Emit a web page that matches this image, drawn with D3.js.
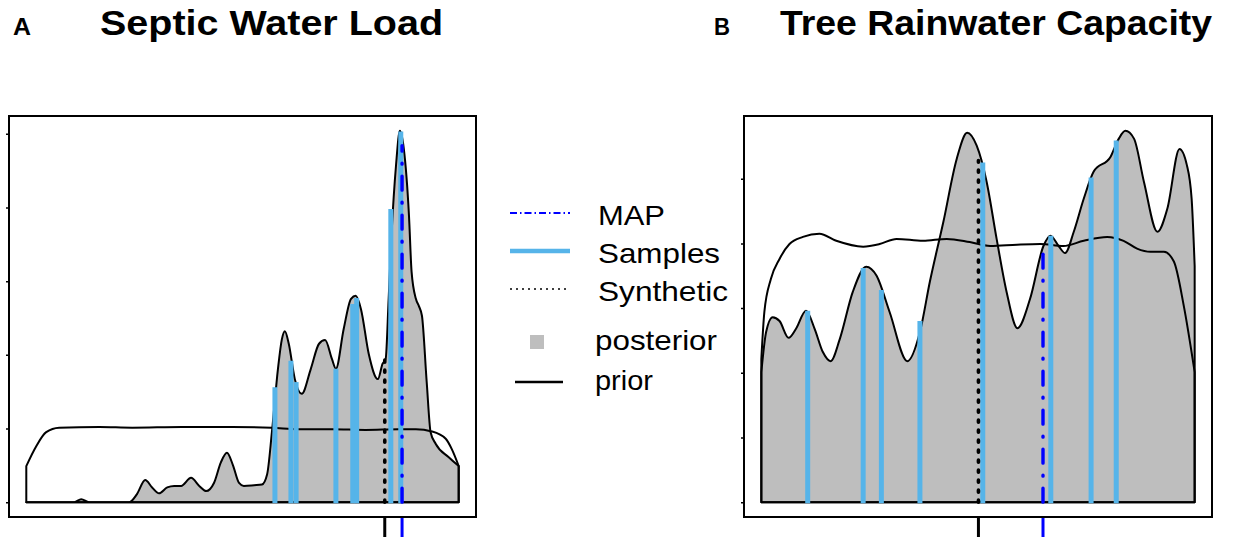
<!DOCTYPE html>
<html>
<head>
<meta charset="utf-8">
<script src="https://cdn.jsdelivr.net/npm/d3@7"></script>
<style>
  body { margin: 0; background: #fff; }
  svg { display: block; font-family: "Liberation Sans", Arial, sans-serif; }
</style>
</head>
<body>
<svg id="chart" width="1234" height="546"></svg>
<script>
// ---- Panel A: Septic Water Load (x in % of range, y in density units) ----
const septicPostX = [0, 5.3, 11.1, 12.7, 14.5, 23.8, 25.6, 27.5, 29.1, 30.7, 32.6, 34.2, 35.8, 38.1, 40.0, 41.6,
  43.4, 45.0, 46.4, 47.8, 49.2, 50.3, 52.7, 54.5, 55.7, 56.8, 58.2, 59.1, 59.8, 60.7, 62.1, 63.7, 65.8, 67.7,
  69.1, 70.7, 71.6, 73.4, 75.1, 76.2, 77.4, 79.2, 81.3, 82.4, 83.1, 83.8, 84.5, 85.5, 86.4, 87.3, 88.5, 89.1,
  90.1, 90.8, 91.5, 92.6, 93.5, 94.7, 97.7, 99.8, 100];
const septicPostY = [0, 0, 0, 0.04, 0, 0, 0.11, 0.30, 0.20, 0.12, 0.20, 0.22, 0.22, 0.33, 0.22, 0.15,
  0.26, 0.54, 0.67, 0.50, 0.26, 0.22, 0.23, 0.24, 0.38, 0.95, 1.81, 2.21, 2.32, 2.15, 1.67, 1.47, 1.81, 2.15,
  2.20, 1.94, 1.81, 2.35, 2.76, 2.80, 2.62, 2.01, 1.67, 1.88, 1.94, 2.76, 3.67, 4.57, 5.04, 4.80, 3.89, 3.13,
  2.76, 2.66, 2.53, 1.63, 0.95, 0.79, 0.61, 0.50, 0.49];
const septicPriorX = [0, 2.3, 4.6, 7.6, 16.9, 24.5, 36.0, 47.6, 56.8, 63.0, 70.7, 78.5, 86.1, 90.1, 93.8, 97.0, 98.4, 100];
const septicPriorY = [0.49, 0.76, 0.95, 1.01, 1.02, 1.01, 1.02, 1.02, 1.01, 0.99, 0.99, 0.98, 0.99, 0.99, 0.96, 0.86, 0.72, 0.49];
const septicSamplesX = [57.5, 61.2, 62.4, 71.6, 75.5, 76.4, 84.3, 86.6];
const septicSamplesY = [1.56, 1.92, 1.63, 1.81, 2.69, 2.77, 3.98, 5.03];
const septicSynthetic = [82.9, 1.94];
const septicMAP = [86.9, 4.84];

// ---- Panel B: Tree Rainwater Capacity ----
const treePostX = [0, 1.1, 2.6, 4.2, 6.3, 8.0, 10.3, 12.3, 14.2, 16.0, 18.1, 21.1, 24.2, 26.6, 29.6, 33.7,
  36.6, 38.9, 42.0, 45.1, 47.5, 49.7, 52.0, 54.3, 56.6, 59.1, 62.0, 65.1, 66.7, 68.6, 70.1, 72.1, 74.4, 76.7,
  80.6, 82.5, 84.0, 86.0, 88.3, 91.4, 93.7, 96.5, 98.2, 99.3, 100];
const treePostY = [2.01, 2.63, 2.86, 2.80, 2.54, 2.68, 2.96, 2.68, 2.32, 2.18, 2.52, 3.25, 3.64, 3.50, 2.94, 2.18,
  2.63, 3.41, 4.33, 5.31, 5.71, 5.51, 4.95, 4.07, 3.25, 2.69, 3.14, 3.96, 4.12, 3.96, 3.85, 4.18, 4.69, 5.11,
  5.34, 5.62, 5.74, 5.62, 4.95, 4.18, 4.54, 5.46, 5.21, 4.69, 3.65];
const treePriorX = [0, 0.7, 2.2, 4.2, 6.5, 9.6, 13.4, 17.3, 23.5, 27.3, 31.2, 37.3, 42.8, 48.1, 52.8, 59.0,
  64.4, 69.7, 74.4, 79.8, 83.6, 86.7, 89.8, 92.9, 95.2, 97.5, 100];
const treePriorY = [2.21, 2.94, 3.45, 3.76, 3.99, 4.10, 4.15, 4.04, 3.95, 3.99, 4.07, 4.04, 4.07, 4.02, 3.96, 3.98,
  3.99, 3.96, 4.04, 4.10, 4.04, 3.92, 3.87, 3.87, 3.72, 3.03, 2.01];
const treeSamplesX = [10.7, 23.5, 27.7, 36.6, 51.1, 66.8, 76.1, 81.9];
const treeSamplesY = [2.96, 3.62, 3.28, 2.80, 5.25, 4.12, 5.02, 5.59];
const treeSynthetic = [50.1, 5.28];
const treeMAP = [65.0, 3.97];

const yTicks = [0, 1, 2, 3, 4, 5];

const legendLabels = ["MAP", "Samples", "Synthetic", "posterior", "prior"];

const colSample = "#56B4E9";
const colMAP = "#0000ff";
const colPost = "#bebebe";

const svg = d3.select("#chart");

function drawPanel(cfg) {
  const xDom = [0, 100];
  const yMax = d3.max(cfg.postY);
  // R style 4% padding on both axes
  const xPad = (xDom[1] - xDom[0]) * 0.04;
  const x = d3.scaleLinear().domain([xDom[0] - xPad, xDom[1] + xPad]).range([cfg.left, cfg.right]);
  const y = d3.scaleLinear().domain([-0.04 * yMax, 1.04 * yMax]).range([cfg.bottom, cfg.top]);

  const g = svg.append("g");

  const area = d3.area()
    .x(d => x(d[0]))
    .y0(y(0))
    .y1(d => y(d[1]))
    .curve(d3.curveMonotoneX);

  const post = d3.zip(cfg.postX, cfg.postY);
  const prior = d3.zip(cfg.priorX, cfg.priorY);

  g.append("path").datum(post)
    .attr("d", area)
    .attr("fill", colPost)
    .attr("stroke", "#000")
    .attr("stroke-width", 2)
    .attr("stroke-linejoin", "round");

  g.append("path").datum(prior)
    .attr("d", area)
    .attr("fill", "none")
    .attr("stroke", "#000")
    .attr("stroke-width", 2)
    .attr("stroke-linejoin", "round");

  // samples
  g.selectAll("line.sample")
    .data(d3.zip(cfg.samplesX, cfg.samplesY))
    .enter().append("line")
      .attr("class", "sample")
      .attr("x1", d => x(d[0])).attr("x2", d => x(d[0]))
      .attr("y1", y(0) + 1).attr("y2", d => y(d[1]))
      .attr("stroke", colSample)
      .attr("stroke-width", 5);

  // synthetic truth
  g.append("line")
    .attr("x1", x(cfg.synthetic[0])).attr("x2", x(cfg.synthetic[0]))
    .attr("y1", y(0)).attr("y2", y(cfg.synthetic[1]))
    .attr("stroke", "#000")
    .attr("stroke-width", 3.6)
    .attr("stroke-linecap", "round")
    .attr("stroke-dasharray", "2,8");

  // MAP
  g.append("line")
    .attr("x1", x(cfg.map[0])).attr("x2", x(cfg.map[0]))
    .attr("y1", y(0)).attr("y2", y(cfg.map[1]))
    .attr("stroke", colMAP)
    .attr("stroke-width", 3.4)
    .attr("stroke-linecap", "round")
    .attr("stroke-dasharray", "14,12,1,12");

  // box
  g.append("rect")
    .attr("x", cfg.left).attr("y", cfg.top)
    .attr("width", cfg.right - cfg.left)
    .attr("height", cfg.bottom - cfg.top)
    .attr("fill", "none")
    .attr("stroke", "#000")
    .attr("stroke-width", 2);

  // tiny y ticks, no labels
  const yAxis = g.append("g")
    .attr("transform", `translate(${cfg.left - 1},0)`)
    .call(d3.axisLeft(y).tickValues(yTicks).tickSize(2).tickFormat(""));
  yAxis.select(".domain").remove();
  yAxis.selectAll(".tick line").attr("stroke", "#000").attr("stroke-width", 1.5);

  // rug ticks under the box for synthetic and MAP
  g.append("line")
    .attr("x1", x(cfg.synthetic[0])).attr("x2", x(cfg.synthetic[0]))
    .attr("y1", cfg.bottom + 1).attr("y2", cfg.bottom + 20)
    .attr("stroke", "#000").attr("stroke-width", 3);
  g.append("line")
    .attr("x1", x(cfg.map[0])).attr("x2", x(cfg.map[0]))
    .attr("y1", cfg.bottom + 1).attr("y2", cfg.bottom + 20)
    .attr("stroke", colMAP).attr("stroke-width", 3);

  // titles
  svg.append("text")
    .attr("x", cfg.letterX).attr("y", 35)
    .attr("font-size", 24).attr("font-weight", "bold")
    .attr("textLength", cfg.letterW).attr("lengthAdjust", "spacingAndGlyphs")
    .text(cfg.letter);
  svg.append("text")
    .attr("x", cfg.titleX).attr("y", 35)
    .attr("font-size", 35).attr("font-weight", "bold")
    .attr("textLength", cfg.titleW).attr("lengthAdjust", "spacingAndGlyphs")
    .text(cfg.title);
}

drawPanel({
  left: 9, right: 476, top: 116, bottom: 517,
  postX: septicPostX, postY: septicPostY,
  priorX: septicPriorX, priorY: septicPriorY,
  samplesX: septicSamplesX, samplesY: septicSamplesY,
  synthetic: septicSynthetic, map: septicMAP,
  letter: "A", letterX: 13, letterW: 18, title: "Septic Water Load", titleX: 100, titleW: 343
});

drawPanel({
  left: 744, right: 1212, top: 116, bottom: 517,
  postX: treePostX, postY: treePostY,
  priorX: treePriorX, priorY: treePriorY,
  samplesX: treeSamplesX, samplesY: treeSamplesY,
  synthetic: treeSynthetic, map: treeMAP,
  letter: "B", letterX: 714, letterW: 16, title: "Tree Rainwater Capacity", titleX: 780, titleW: 432
});

// ---- legend ----
const leg = svg.append("g");
const legRows = [
  {y: 213, textX: 598, base: 225, w: 67},
  {y: 251, textX: 598, base: 263, w: 122},
  {y: 289, textX: 598, base: 301, w: 130},
  {y: 342, textX: 595, base: 350, w: 122},
  {y: 382, textX: 595, base: 390, w: 58}
];

leg.append("line").attr("x1", 510).attr("x2", 570).attr("y1", legRows[0].y).attr("y2", legRows[0].y)
  .attr("stroke", colMAP).attr("stroke-width", 1.8).attr("stroke-dasharray", "7,3,1.5,3");
leg.append("line").attr("x1", 510).attr("x2", 570).attr("y1", legRows[1].y).attr("y2", legRows[1].y)
  .attr("stroke", colSample).attr("stroke-width", 4.5);
leg.append("line").attr("x1", 510).attr("x2", 570).attr("y1", legRows[2].y).attr("y2", legRows[2].y)
  .attr("stroke", "#000").attr("stroke-width", 1.6).attr("stroke-dasharray", "2,4");
leg.append("rect").attr("x", 530).attr("y", legRows[3].y - 7).attr("width", 14).attr("height", 14)
  .attr("fill", colPost);
leg.append("line").attr("x1", 515).attr("x2", 563).attr("y1", legRows[4].y).attr("y2", legRows[4].y)
  .attr("stroke", "#000").attr("stroke-width", 2.6);

leg.selectAll("text")
  .data(legendLabels)
  .enter().append("text")
    .attr("x", (d, i) => legRows[i].textX)
    .attr("y", (d, i) => legRows[i].base)
    .attr("font-size", 28)
    .attr("textLength", (d, i) => legRows[i].w)
    .attr("lengthAdjust", "spacingAndGlyphs")
    .text(d => d);
</script>
</body>
</html>
